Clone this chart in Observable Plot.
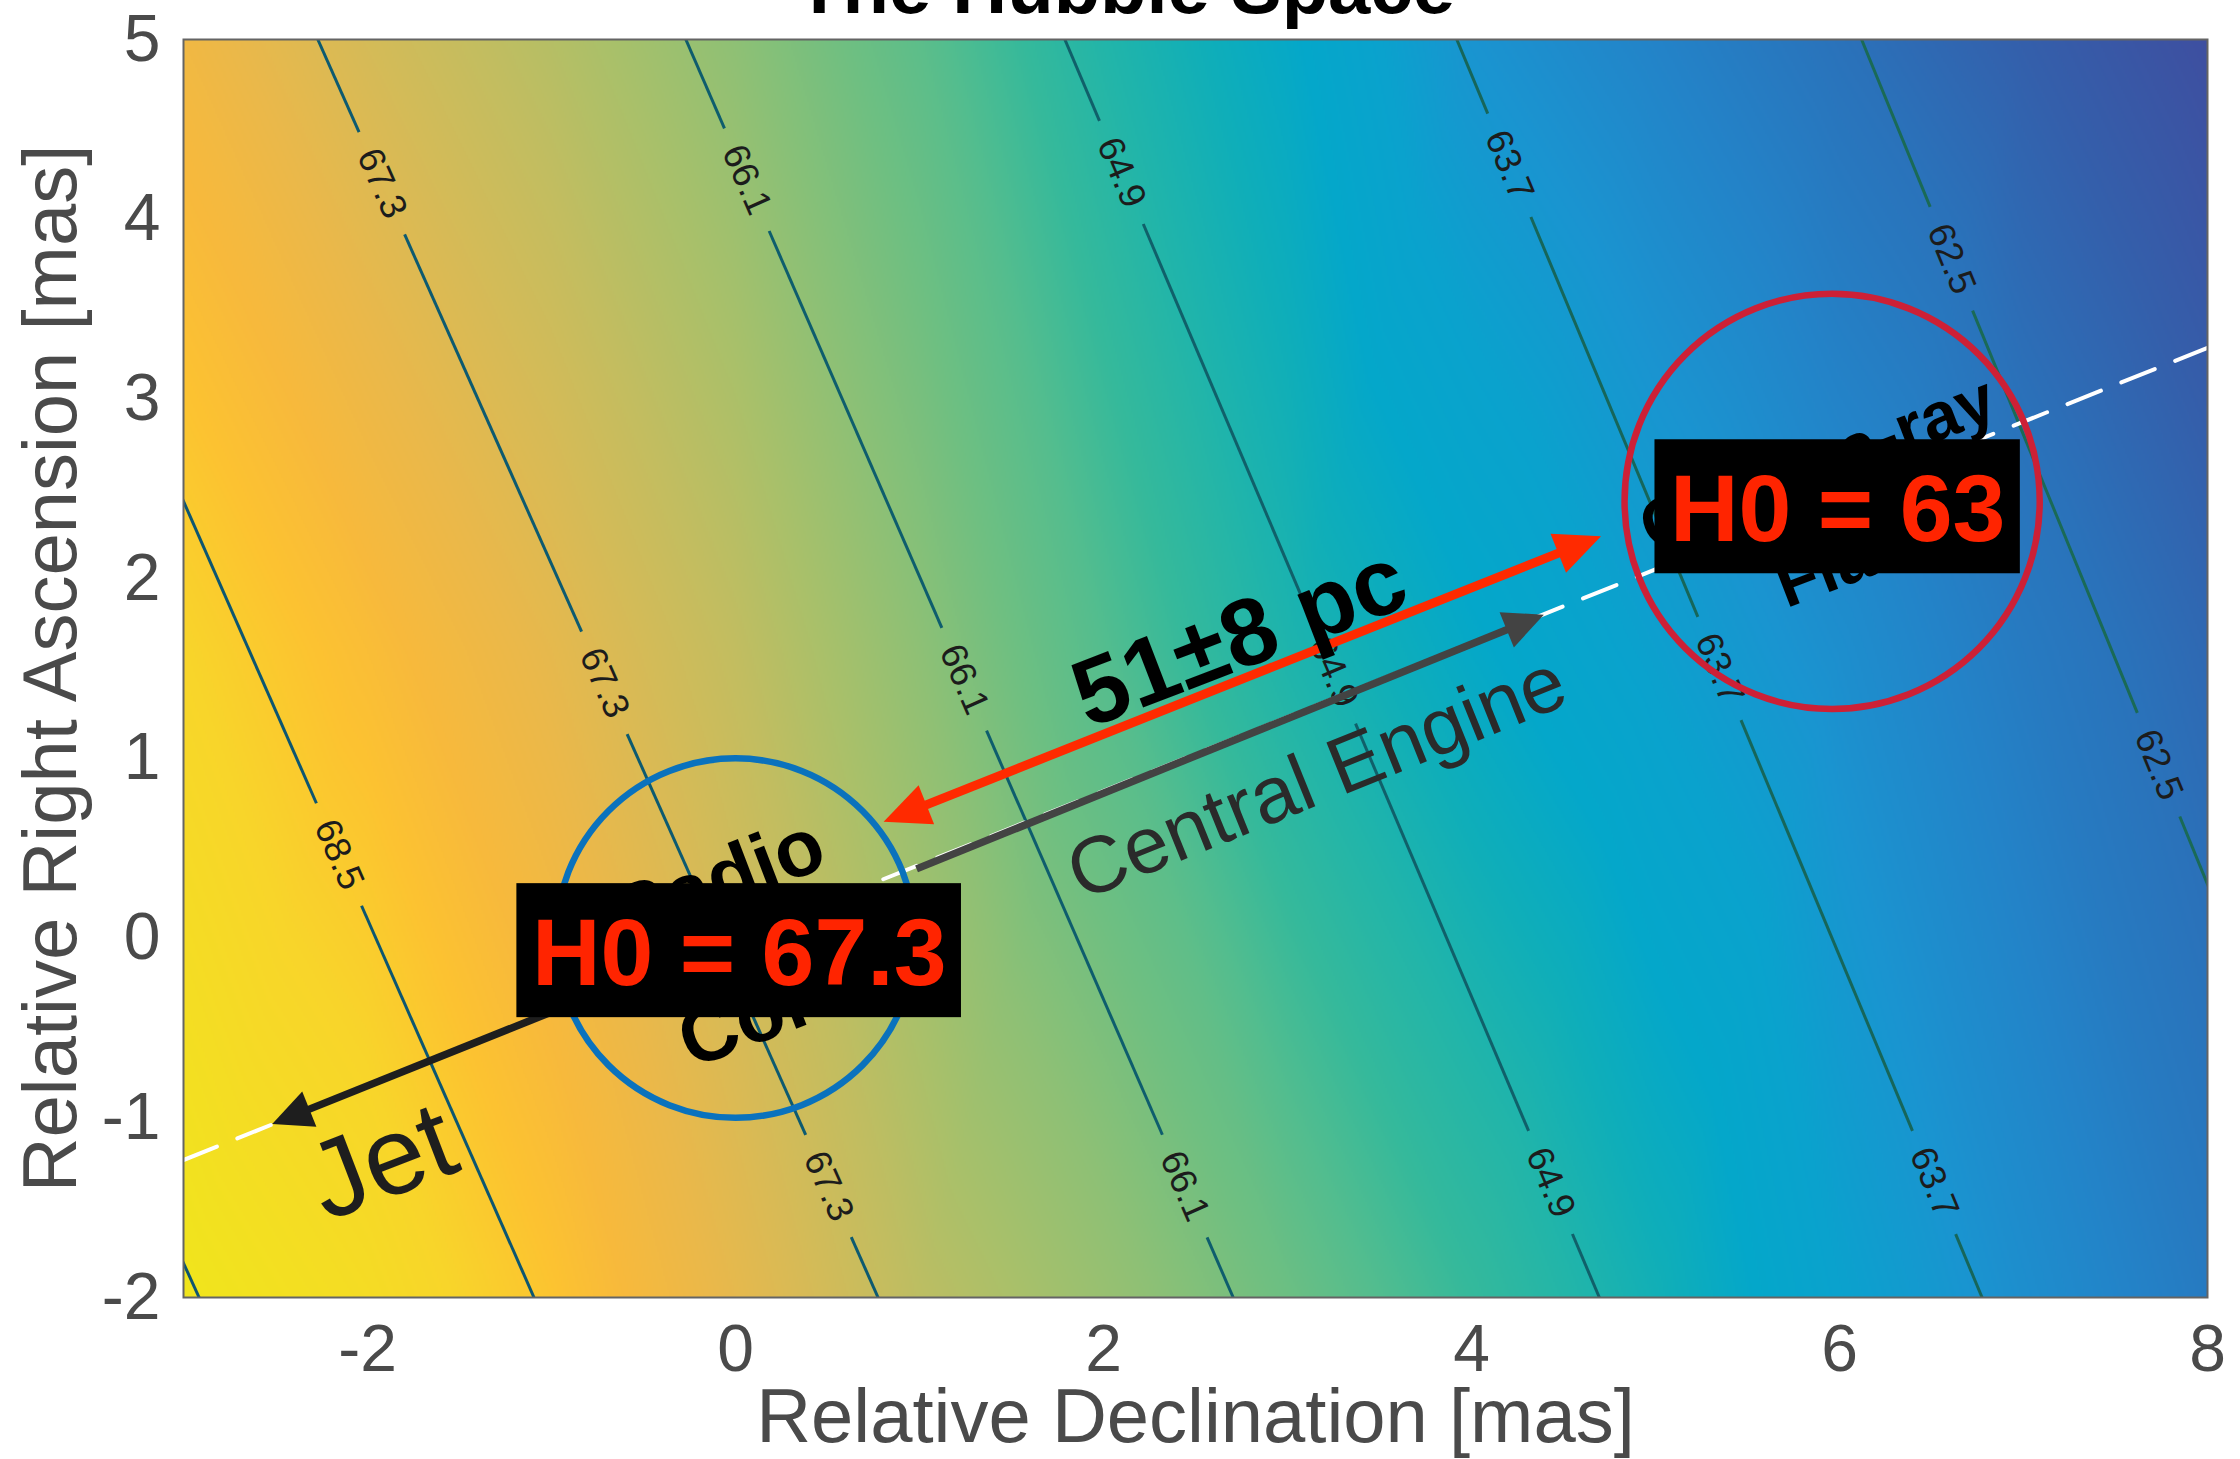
<!DOCTYPE html>
<html>
<head>
<meta charset="utf-8">
<script src="https://cdn.jsdelivr.net/npm/d3@7"></script>
<script src="https://cdn.jsdelivr.net/npm/@observablehq/plot@0.6"></script>
<style>
  html, body { margin: 0; padding: 0; background: #fff; }
  #chart { width: 2240px; height: 1459px; overflow: hidden; }
</style>
</head>
<body>
<div id="chart"></div>
<script>
// ---------------- data ----------------
const title = "The Hubble Space";
const xLabel = "Relative Declination [mas]";
const yLabel = "Relative Right Ascension [mas]";
const xTicks = [-2, 0, 2, 4, 6, 8];
const yTicks = [-2, -1, 0, 1, 2, 3, 4, 5];

// background shading (position on the colour map, 0 = dark blue, 1 = yellow)
const shadeX = [-3, -2, -1, 0, 1, 2, 3, 4, 5, 6, 7, 8];
const shadeRowY = [5, 1.6, -2];
const shadeTop    = [0.84, 0.77, 0.705, 0.63, 0.545, 0.43, 0.34, 0.22, 0.16, 0.10, 0.05, 0.00];
const shadeMid    = [0.93, 0.875, 0.81, 0.73, 0.63, 0.53, 0.42, 0.34, 0.27, 0.20, 0.13, 0.075];
const shadeBottom = [1.00, 0.96, 0.895, 0.81, 0.72, 0.65, 0.575, 0.48, 0.39, 0.28, 0.20, 0.13];

// H0 contour lines: where each level crosses y = 5 and y = -2
const contourLevels  = [69.7, 68.5, 67.3, 66.1, 64.9, 63.7, 62.5];
const contourTopX    = [-6.03, -4.105, -2.27, -0.27, 1.79, 3.92, 6.12];
const contourBottomX = [-2.915, -1.095, 0.775, 2.705, 4.695, 6.775, 8.92];
// inline contour labels (level, y position along the line)
const labelLevels = [67.3, 67.3, 67.3, 66.1, 66.1, 66.1, 64.9, 64.9, 64.9, 63.7, 63.7, 63.7, 62.5, 62.5, 68.5];
const labelY      = [4.20, 1.42, -1.38, 4.22, 1.44, -1.38, 4.26, 1.48, -1.36, 4.30, 1.50, -1.36, 3.78, 0.965, 0.465];

// jet axis (white dashed line)
const axisLineX = [-3, 8];
const axisLineY = [-1.235, 3.284];

// regions
const regionNames = ["Radio\nCore", "Gamma-ray\nFlare"];
const regionX = [0, 5.96];
const regionY = [0, 2.43];
const regionRadius = [1.0, 1.155];   // in y units
const regionTextY = [0.05, 2.43];

// arrows: distance (double headed), central engine, jet
const arrowX1 = [0.805, 0.984, -0.60];
const arrowY1 = [0.647, 0.385, -0.247];
const arrowX2 = [4.704, 4.393, -2.518];
const arrowY2 = [2.236, 1.799, -1.035];
const arrowBoth = [true, false, false];

// text annotations
const noteText = ["Jet", "Central Engine", "51±8 pc"];
const noteX = [-1.92, 3.16, 2.74];
const noteY = [-1.25, 0.89, 1.67];

// H0 boxes
const h0Text = ["H0 = 67.3", "H0 = 63"];
const h0X = [0.02, 5.99];
const h0Y = [-0.07, 2.40];

// ---------------- layout & styles ----------------
const W = 2240, H = 1459;
const mL = 183, mR = 33, mT = 39, mB = 162;
const xDom = [-3, 8], yDom = [-2, 5];
const pxX = (W - mL - mR) / (xDom[1] - xDom[0]);
const pxY = (H - mT - mB) / (yDom[1] - yDom[0]);
const FONT = "'Liberation Sans', Arial, Helvetica, sans-serif";
const axisGray = "#4a4a4a";

const paletteT = [0.00, 0.05, 0.10, 0.16, 0.22, 0.28, 0.33, 0.38, 0.43, 0.48, 0.53, 0.58, 0.63, 0.68, 0.73, 0.78, 0.82, 0.86, 0.89, 0.93, 1.00];
const paletteC = ["#3e4fa0", "#345fab", "#2a72ba", "#2383c8", "#1a94d0", "#0aa2cd", "#04a7ca", "#0faeb9", "#22b5a9", "#35b99b",
                  "#54bd8e", "#6fbf81", "#8ec075", "#a8c06a", "#c2bd60", "#d9ba55", "#eab84a", "#f7b93c", "#fcc231", "#f8d52a", "#f0e51c"];
const pal = d3.scaleLinear().domain(paletteT).range(paletteC).interpolate(d3.interpolateRgb).clamp(true);
const parulaLike = t => pal(t);

const contourColors = ["#0d5470", "#0d5670", "#0d5a70", "#0e5d6d", "#10606a", "#16665a", "#1a6a56"];

// ---------------- derived mark data ----------------
const shadeRows = [shadeTop, shadeMid, shadeBottom];
const shadePts = shadeRowY.flatMap((y, j) => shadeX.map((x, i) => ({x, y, t: shadeRows[j][i]})));

const contourSegs = [];
const contourLabels = [];
contourLevels.forEach((lv, i) => {
  const xt = contourTopX[i], xb = contourBottomX[i];
  const slope = (xb - xt) / 7;               // dx per unit of y going down
  const xAt = y => xt + slope * (5 - y);
  const alongPx = Math.hypot(slope * pxX, pxY);
  const gh = 56 / alongPx;
  const angle = Math.atan2(pxY, slope * pxX) * 180 / Math.PI;
  const gaps = labelLevels.map((l, k) => l === lv ? labelY[k] : null).filter(v => v !== null).sort((a, b) => b - a);
  const segs = [];
  let yS = 5;
  for (const g of gaps) {
    segs.push({x1: xAt(yS), y1: yS, x2: xAt(g + gh), y2: g + gh});
    yS = g - gh;
    contourLabels.push({x: xAt(g), y: g, text: lv.toFixed(1), rotate: angle});
  }
  segs.push({x1: xAt(yS), y1: yS, x2: xAt(-2), y2: -2});
  contourSegs.push(segs);
});

function headSymbol(L, Wd) {
  return { draw(ctx) { ctx.moveTo(0, 0); ctx.lineTo(-Wd / 2, L); ctx.lineTo(Wd / 2, L); ctx.closePath(); } };
}
const arrowStyle = [
  {color: "#ff2a00", width: 9, L: 46, Wd: 42},
  {color: "#434343", width: 7.5, L: 40, Wd: 38},
  {color: "#1e1e1e", width: 7.5, L: 40, Wd: 38}
];

const marks = [];
marks.push(Plot.raster(shadePts, {x: "x", y: "y", fill: "t", interpolate: "barycentric", pixelSize: 2}));

contourSegs.forEach((segs, i) => {
  marks.push(Plot.link(segs, {x1: "x1", y1: "y1", x2: "x2", y2: "y2", stroke: contourColors[i], strokeWidth: 3, clip: true}));
});
marks.push(Plot.text(contourLabels, {x: "x", y: "y", text: "text", rotate: "rotate", fontSize: 37, fill: "#1c1c1c",
  textAnchor: "middle", lineAnchor: "middle", fontFamily: FONT}));

// dashed jet axis
marks.push(Plot.line(axisLineX.map((x, i) => ({x, y: axisLineY[i]})), {x: "x", y: "y", stroke: "white", strokeWidth: 4, strokeDasharray: "36,22", clip: true}));

// circles
const circleColors = ["#0a72bd", "#cd2036"];
regionX.forEach((x, i) => {
  marks.push(Plot.dot([{x, y: regionY[i]}], {x: "x", y: "y", r: regionRadius[i] * pxY, fill: "none", stroke: circleColors[i], strokeWidth: 6.5}));
});

// arrows
arrowX1.forEach((_, i) => {
  const st = arrowStyle[i];
  const x1 = arrowX1[i], y1 = arrowY1[i], x2 = arrowX2[i], y2 = arrowY2[i];
  const fx = x2 - x1, fy = y2 - y1;
  const dxp = fx * pxX, dyp = -fy * pxY;
  const len = Math.hypot(dxp, dyp);
  const ang = Math.atan2(dyp, dxp) * 180 / Math.PI;
  const cut = st.L * 0.6 / len;
  const s = {x1: arrowBoth[i] ? x1 + fx * cut : x1, y1: arrowBoth[i] ? y1 + fy * cut : y1, x2: x2 - fx * cut, y2: y2 - fy * cut};
  marks.push(Plot.link([s], {x1: "x1", y1: "y1", x2: "x2", y2: "y2", stroke: st.color, strokeWidth: st.width, strokeLinecap: "butt"}));
  const heads = [{x: x2, y: y2, rot: ang + 90}];
  if (arrowBoth[i]) heads.push({x: x1, y: y1, rot: ang - 90});
  marks.push(Plot.dot(heads, {x: "x", y: "y", rotate: "rot", symbol: headSymbol(st.L, st.Wd), fill: st.color, stroke: "none"}));
});

// annotations
const noteStyle = [
  {fontSize: 110, fontWeight: "normal", fill: "#1e1e1e", rotate: -21},
  {fontSize: 80, fontWeight: "normal", fill: "#2a2a2a", rotate: -22},
  {fontSize: 95, fontWeight: "bold", fill: "#000", rotate: -21}
];
noteText.forEach((t, i) => {
  marks.push(Plot.text([{x: noteX[i], y: noteY[i], t}], {x: "x", y: "y", text: "t", ...noteStyle[i],
    textAnchor: "middle", lineAnchor: "middle", fontFamily: FONT}));
});
const regionFont = [80, 68];
const regionLH = [1.75, 1.5];
regionNames.forEach((t, i) => {
  marks.push(Plot.text([{x: regionX[i], y: regionTextY[i], t}], {x: "x", y: "y", text: "t", fontSize: regionFont[i], fontWeight: "bold",
    fill: "#000", rotate: -21, lineHeight: regionLH[i], textAnchor: "middle", lineAnchor: "middle", fontFamily: FONT}));
});

// H0 boxes
const ctx = document.createElement("canvas").getContext("2d");
ctx.font = `bold 95px ${FONT}`;
const boxes = h0Text.map((t, i) => {
  const w = ctx.measureText(t).width + 30, h = 134;
  return {t, x: h0X[i], y: h0Y[i], x1: h0X[i] - w / 2 / pxX, x2: h0X[i] + w / 2 / pxX, y1: h0Y[i] - h / 2 / pxY, y2: h0Y[i] + h / 2 / pxY};
});
marks.push(Plot.rect(boxes, {x1: "x1", x2: "x2", y1: "y1", y2: "y2", fill: "black"}));
marks.push(Plot.text(boxes, {x: "x", y: "y", text: "t", fontSize: 95, fontWeight: "bold", fill: "#ff2400",
  textAnchor: "middle", lineAnchor: "middle", dy: 4, fontFamily: FONT}));

// frame, axes, labels, title
marks.push(Plot.frame({stroke: "#646464", strokeWidth: 2}));
marks.push(Plot.axisX({ticks: xTicks, tickSize: 0, tickPadding: 27, fontSize: 66, tickFormat: d => String(d), label: null, color: axisGray}));
marks.push(Plot.axisY({ticks: yTicks, tickSize: 0, tickPadding: 23, fontSize: 66, tickFormat: d => String(d), label: null, color: axisGray}));
marks.push(Plot.text([xLabel], {frameAnchor: "bottom", text: d => d, dy: 144, lineAnchor: "bottom", fontSize: 76, fill: axisGray, fontFamily: FONT}));
marks.push(Plot.text([yLabel], {frameAnchor: "left", text: d => d, dx: -108, rotate: -90, lineAnchor: "bottom", textAnchor: "middle", fontSize: 76, fill: axisGray, fontFamily: FONT}));
marks.push(Plot.text([title], {frameAnchor: "top", text: d => d, dx: -70, dy: -27, lineAnchor: "bottom", fontSize: 76, fontWeight: "bold", fill: "#000", fontFamily: FONT}));

const chart = Plot.plot({
  width: W, height: H,
  marginLeft: mL, marginRight: mR, marginTop: mT, marginBottom: mB,
  x: {domain: xDom},
  y: {domain: yDom},
  color: {type: "linear", domain: [0, 1], interpolate: parulaLike},
  style: {fontFamily: FONT, background: "white", overflow: "hidden"},
  marks
});
document.getElementById("chart").appendChild(chart);
</script>
</body>
</html>
